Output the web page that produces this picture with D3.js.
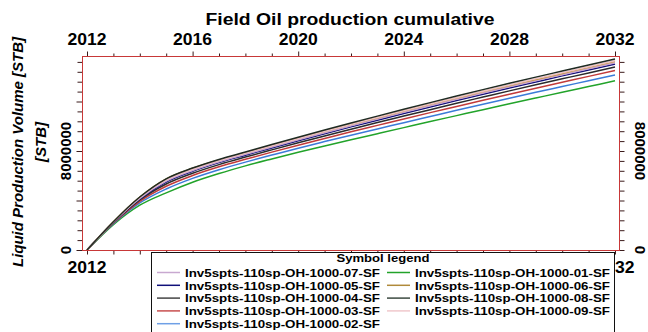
<!DOCTYPE html>
<html><head><meta charset="utf-8">
<script src="https://cdn.jsdelivr.net/npm/d3@7"></script>
<style>html,body{margin:0;padding:0;background:#fff;}svg{display:block;}</style>
</head><body><svg id="c" width="648" height="332"></svg>
<script>
const years = [2012,2013,2014,2015,2016,2017,2018,2019,2020,2021,2022,2023,2024,2025,2026,2027,2028,2029,2030,2031,2032];
// cumulative production, millions STB
const s01 = [0,2.05,3.62,4.62,5.48,6.18,6.80,7.36,7.90,8.41,8.91,9.40,9.89,10.38,10.86,11.34,11.81,12.28,12.75,13.21,13.67];
const s02 = [0,2.12,3.80,4.93,5.79,6.49,7.10,7.67,8.23,8.76,9.28,9.78,10.29,10.79,11.29,11.78,12.26,12.74,13.21,13.68,14.15];
const s03 = [0,2.16,3.93,5.15,6.02,6.72,7.33,7.91,8.47,9.01,9.55,10.07,10.59,11.10,11.60,12.10,12.59,13.07,13.55,14.03,14.50];
const s04 = [0,2.20,4.04,5.33,6.20,6.90,7.51,8.09,8.66,9.22,9.76,10.30,10.82,11.34,11.86,12.36,12.86,13.35,13.83,14.31,14.78];
const s05 = [0,2.24,4.13,5.49,6.36,7.06,7.66,8.25,8.83,9.40,9.95,10.49,11.03,11.56,12.08,12.59,13.09,13.58,14.07,14.55,15.03];
const s06 = [0,2.29,4.28,5.75,6.60,7.27,7.86,8.45,9.03,9.59,10.15,10.69,11.24,11.77,12.28,12.80,13.30,13.78,14.27,14.76,15.24];
const s07 = [0,2.25,4.17,5.56,6.43,7.13,7.73,8.32,8.90,9.47,10.03,10.58,11.12,11.65,12.17,12.69,13.19,13.68,14.17,14.65,15.13];
const s08 = [0,2.29,4.28,5.75,6.62,7.32,7.92,8.52,9.11,9.69,10.26,10.82,11.37,11.91,12.44,12.96,13.47,13.97,14.46,14.95,15.43];
const s09 = [0,2.27,4.23,5.66,6.53,7.23,7.83,8.43,9.01,9.59,10.15,10.71,11.25,11.79,12.31,12.83,13.34,13.84,14.32,14.81,15.29];

const seriesNames = ["Inv5spts-110sp-OH-1000-01-SF","Inv5spts-110sp-OH-1000-02-SF","Inv5spts-110sp-OH-1000-03-SF","Inv5spts-110sp-OH-1000-04-SF","Inv5spts-110sp-OH-1000-05-SF","Inv5spts-110sp-OH-1000-06-SF","Inv5spts-110sp-OH-1000-07-SF","Inv5spts-110sp-OH-1000-08-SF","Inv5spts-110sp-OH-1000-09-SF"];
const seriesValues = [s01,s02,s03,s04,s05,s06,s07,s08,s09];
const seriesColors = ["#22a32a","#3b7bd8","#c23a3a","#2b2b2b","#10107a","#b88c2c","#c8a2cc","#1e2a22","#efc2c4"];
const legendColors = ["#22a32a","#6fa0e6","#c85050","#444444","#10107a","#b08a3a","#c8a8d0","#3c4a40","#f0c8cc"];
const legendLeft = [6,4,3,2,1];   // 07,05,04,03,02
const legendRight = [0,5,7,8];    // 01,06,08,09

const xTickYears = [2012,2016,2020,2024,2028,2032];
const yTickLabels = [0, 8000000];

const svg = d3.select("#c");
const FONT = "'Liberation Sans', Arial, sans-serif";

const x = d3.scaleLinear().domain([2012,2032]).range([87,615]);
const y = d3.scaleLinear().domain([0,16e6]).range([250,52]);

const fL = 82.5, fR = 619.5, fT = 56.5, fB = 250.5;
const frameColor = "#c83838";
const tickColor = "#3a1a1a";

// Title
svg.append("text").attr("x",350).attr("y",25).attr("text-anchor","middle")
  .attr("font-family",FONT).attr("font-weight","bold").attr("font-size",16)
  .attr("textLength",289).attr("lengthAdjust","spacingAndGlyphs")
  .text("Field Oil production cumulative");

// Top axis
const topAxis = d3.axisTop(x).tickValues(d3.range(2012,2033,1)).tickFormat("").tickSize(3).tickSizeOuter(0);
const gTop = svg.append("g").attr("transform",`translate(0,${fT})`).call(topAxis);
gTop.select(".domain").remove();
gTop.selectAll(".tick line").attr("stroke",tickColor).attr("y2",d=> (d%4===0)?-5:-3);
xTickYears.forEach(v=>{
  svg.append("text").attr("x",x(v)).attr("y",45).attr("text-anchor","middle")
    .attr("font-family",FONT).attr("font-weight","bold").attr("font-size",16)
    .attr("textLength",39).attr("lengthAdjust","spacingAndGlyphs").text(v);
});

// Bottom axis
const botAxis = d3.axisBottom(x).tickValues(d3.range(2012,2033,1)).tickFormat("").tickSize(4).tickSizeOuter(0);
const gBot = svg.append("g").attr("transform",`translate(0,${fB})`).call(botAxis);
gBot.select(".domain").remove();
gBot.selectAll(".tick line").attr("stroke",tickColor);
[2012,2032].forEach(v=>{
  svg.append("text").attr("x",x(v)).attr("y",273).attr("text-anchor","middle")
    .attr("font-family",FONT).attr("font-weight","bold").attr("font-size",16)
    .attr("textLength",39).attr("lengthAdjust","spacingAndGlyphs").text(v);
});

// Left axis
const yMinor = d3.range(0, 15.3e6, 8e5);
const leftAxis = d3.axisLeft(y).tickValues(yMinor).tickFormat("").tickSize(5).tickSizeOuter(0);
const gLeft = svg.append("g").attr("transform",`translate(${fL},0)`).call(leftAxis);
gLeft.select(".domain").remove();
gLeft.selectAll(".tick line").attr("stroke",tickColor).attr("x2",d=> (Math.round(d)%4000000===0)?-6:-5);
yTickLabels.forEach(v=>{
  svg.append("text").attr("transform",`translate(71,${y(v)}) rotate(-90)`).attr("text-anchor","middle")
    .attr("font-family",FONT).attr("font-weight","bold").attr("font-size",15).text(d3.format("d")(v));
});

// Right axis
const rightAxis = d3.axisRight(y).tickValues(yMinor).tickFormat("").tickSize(5).tickSizeOuter(0);
const gRight = svg.append("g").attr("transform",`translate(${fR},0)`).call(rightAxis);
gRight.select(".domain").remove();
gRight.selectAll(".tick line").attr("stroke",tickColor);
yTickLabels.forEach(v=>{
  svg.append("text").attr("transform",`translate(635,${y(v)}) rotate(90)`).attr("text-anchor","middle")
    .attr("font-family",FONT).attr("font-weight","bold").attr("font-size",15).text(d3.format("d")(v));
});

// Y titles
svg.append("text").attr("transform","translate(23,152) rotate(-90)").attr("text-anchor","middle")
  .attr("font-family",FONT).attr("font-weight","bold").attr("font-style","italic").attr("font-size",15)
  .attr("textLength",230).attr("lengthAdjust","spacingAndGlyphs")
  .text("Liquid Production Volume [STB]");
svg.append("text").attr("transform","translate(46,142) rotate(-90)").attr("text-anchor","middle")
  .attr("font-family",FONT).attr("font-weight","bold").attr("font-style","italic").attr("font-size",15)
  .text("[STB]");

// Lines
const line = d3.line().x((d,i)=>x(years[i])).y(d=>y(d*1e6)).curve(d3.curveMonotoneX);
const order = [0,1,2,3,4,6,5,8,7];
order.forEach(i=>{
  svg.append("path").attr("d",line(seriesValues[i])).attr("fill","none")
    .attr("stroke",seriesColors[i]).attr("stroke-width",1.5);
});

// Frame
svg.append("rect").attr("x",fL).attr("y",fT).attr("width",fR-fL).attr("height",fB-fT)
  .attr("fill","none").attr("stroke",frameColor).attr("stroke-width",1);

// Legend
const lg = svg.append("g");
lg.append("rect").attr("x",151.5).attr("y",252.5).attr("width",463).attr("height",100)
  .attr("fill","#fff").attr("stroke","#111").attr("stroke-width",1);
lg.append("text").attr("x",383).attr("y",262).attr("text-anchor","middle")
  .attr("font-family",FONT).attr("font-weight","bold").attr("font-size",11).attr("textLength",93)
  .attr("lengthAdjust","spacingAndGlyphs").text("Symbol legend");
function legRow(idx, row, x0){
  const cy = 272.5 + row*12.8;
  lg.append("line").attr("x1",x0).attr("x2",x0+23).attr("y1",cy).attr("y2",cy)
    .attr("stroke",legendColors[idx]).attr("stroke-width",1.5);
  lg.append("text").attr("x",x0+28).attr("y",cy+4.2)
    .attr("font-family",FONT).attr("font-weight","bold").attr("font-size",11.5)
    .attr("textLength",195).attr("lengthAdjust","spacingAndGlyphs").text(seriesNames[idx]);
}
legendLeft.forEach((idx,r)=>legRow(idx,r,157));
legendRight.forEach((idx,r)=>legRow(idx,r,387));
</script></body></html>
